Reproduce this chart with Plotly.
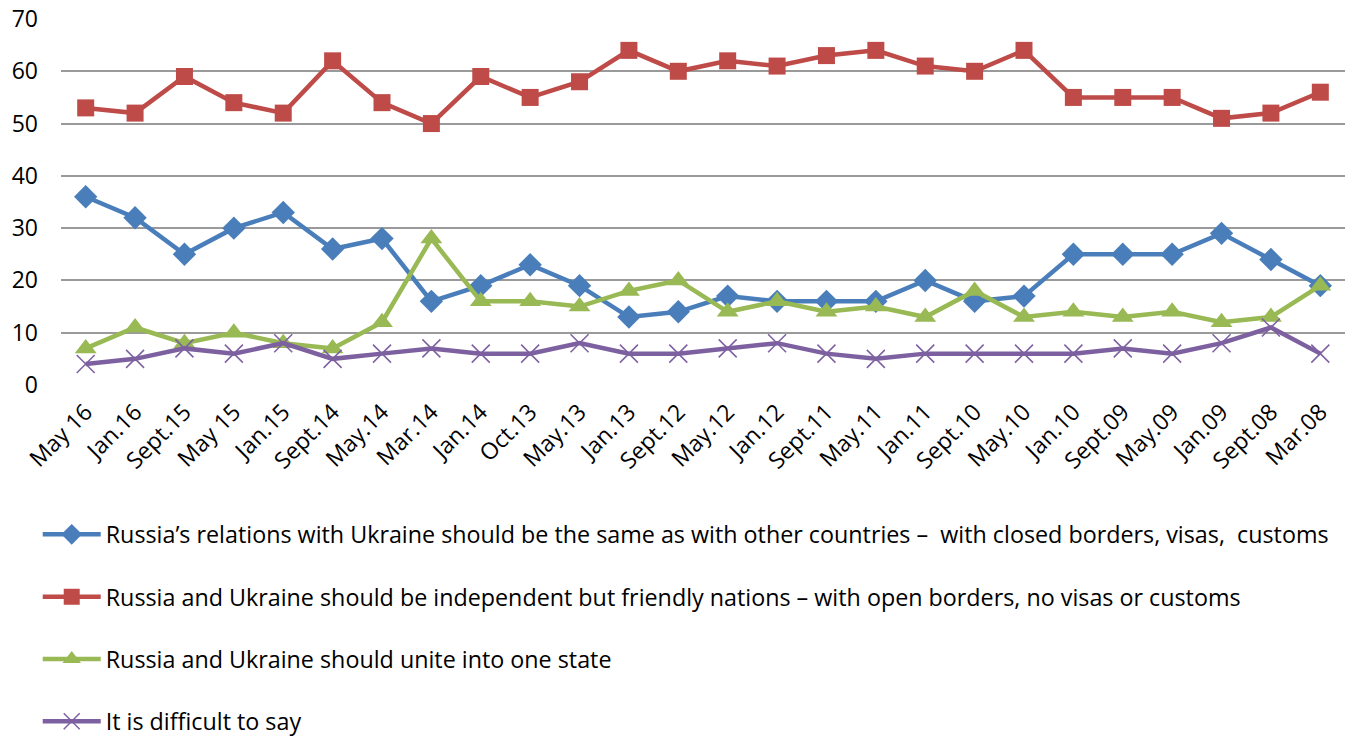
import plotly.graph_objects as go

periods = ['May 16', 'Jan.16', 'Sept.15', 'May 15', 'Jan.15', 'Sept.14', 'May.14', 'Mar.14',
           'Jan.14', 'Oct.13', 'May.13', 'Jan.13', 'Sept.12', 'May.12', 'Jan.12', 'Sept.11',
           'May.11', 'Jan.11', 'Sept.10', 'May.10', 'Jan.10', 'Sept.09', 'May.09', 'Jan.09',
           'Sept.08', 'Mar.08']

closed_borders = [36, 32, 25, 30, 33, 26, 28, 16, 19, 23, 19, 13, 14, 17, 16, 16, 16, 20, 16, 17,
                  25, 25, 25, 29, 24, 19]
open_borders = [53, 52, 59, 54, 52, 62, 54, 50, 59, 55, 58, 64, 60, 62, 61, 63, 64, 61, 60, 64,
                55, 55, 55, 51, 52, 56]
unite = [7, 11, 8, 10, 8, 7, 12, 28, 16, 16, 15, 18, 20, 14, 16, 14, 15, 13, 18, 13,
         14, 13, 14, 12, 13, 19]
difficult = [4, 5, 7, 6, 8, 5, 6, 7, 6, 6, 8, 6, 6, 7, 8, 6, 5, 6, 6, 6, 6, 7, 6, 8, 11, 6]

names = [
    'Russia’s relations with Ukraine should be the same as with other countries –  with closed borders, visas,  customs',
    'Russia and Ukraine should be independent but friendly nations – with open borders, no visas or customs',
    'Russia and Ukraine should unite into one state',
    'It is difficult to say',
]

font = 'Open Sans'

fig = go.Figure()
fig.add_trace(go.Scatter(x=periods, y=closed_borders, name=names[0], legendgroup='a',
                         mode='lines+markers', line=dict(color='#4a7ebb', width=4.5),
                         marker=dict(symbol='diamond', size=18, color='#4a7ebb')))
fig.add_trace(go.Scatter(x=periods, y=open_borders, name=names[1], legendgroup='b',
                         mode='lines+markers', line=dict(color='#be4b48', width=4.5),
                         marker=dict(symbol='square', size=17, color='#be4b48')))
fig.add_trace(go.Scatter(x=periods, y=unite, name=names[2], legendgroup='c',
                         mode='lines+markers', line=dict(color='#98b954', width=4.5),
                         marker=dict(symbol='triangle-up', size=19, color='#98b954')))
fig.add_trace(go.Scatter(x=periods, y=difficult, name=names[3], legendgroup='d',
                         mode='lines+markers', line=dict(color='#7d60a0', width=4.5),
                         marker=dict(symbol='x-thin-open', size=18,
                                     line=dict(color='#7d60a0', width=1.5))))

fig.update_layout(
    width=1352, height=742,
    margin=dict(l=61, r=7, t=19, b=357, autoexpand=False),
    paper_bgcolor='white', plot_bgcolor='white',
    font=dict(family=font, size=20, color='black'),
    showlegend=True,
    legend=dict(xref='container', yref='container', x=0.0279, xanchor='left',
                y=0.309, yanchor='top',
                traceorder='grouped', tracegroupgap=29, itemwidth=58,
                font=dict(family=font, size=23.3)),
    xaxis=dict(type='category', tickangle=-45, showgrid=False, showline=False,
               ticks='', tickfont=dict(size=23), ticklabelstandoff=8,
               range=[-0.5, len(periods) - 0.5]),
    yaxis=dict(range=[0, 70], dtick=10, showgrid=True, gridcolor='#9a9a9a', gridwidth=2,
               zeroline=False, showline=False, ticks='', ticklabelstandoff=22,
               ticklabeloverflow='allow', tickfont=dict(size=23)),
)

# page has a default 8px body margin; drop it so the figure fills the window
fig.write_html('out.html', config={'displayModeBar': False},
               post_script="document.body.style.margin='0';")
